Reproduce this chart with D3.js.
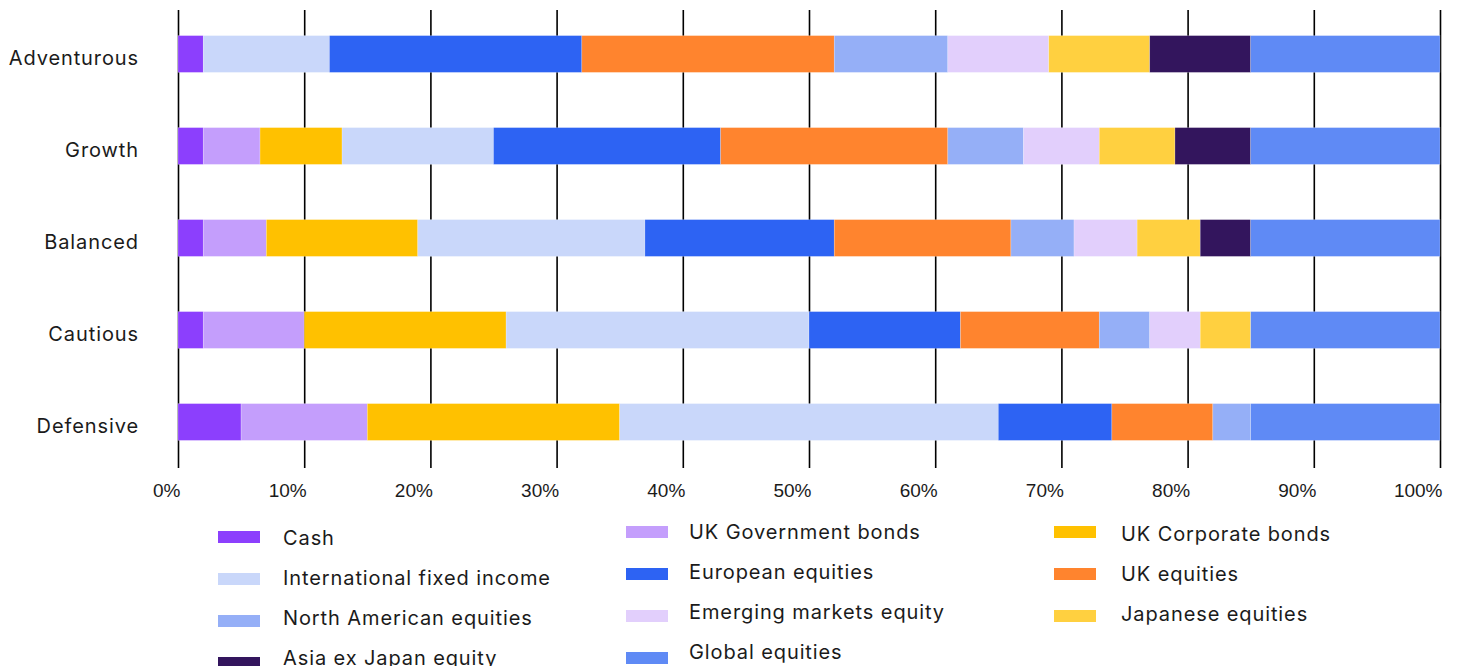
<!DOCTYPE html>
<html>
<head>
<meta charset="utf-8">
<script src="https://cdn.jsdelivr.net/npm/d3@7"></script>
<style>
  body { margin: 0; background: #fff; }
  svg { display: block; font-family: Inter, "Noto Sans", sans-serif; }
</style>
</head>
<body>
<svg id="chart" width="1458" height="666"></svg>
<script>
// portfolios, top to bottom
var portfolios = ["Adventurous", "Growth", "Balanced", "Cautious", "Defensive"];

// asset classes in stacking order
var assets = [
  "Cash", "UK Government bonds", "UK Corporate bonds",
  "International fixed income", "European equities", "UK equities",
  "North American equities", "Emerging markets equity", "Japanese equities",
  "Asia ex Japan equity", "Global equities"
];

var colours = [
  "#8c3ffd", "#c49efc", "#ffc100",
  "#c9d7fa", "#2d63f3", "#ff842e",
  "#95aff7", "#e2cffc", "#ffd040",
  "#33155d", "#5f8af5"
];

// % weights, one array per portfolio (same order as assets)
var adventurous = [2, 0,   0,   10, 20, 20, 9, 8, 8, 8, 15];
var growth      = [2, 4.5, 6.5, 12, 18, 18, 6, 6, 6, 6, 15];
var balanced    = [2, 5,   12,  18, 15, 14, 5, 5, 5, 4, 15];
var cautious    = [2, 8,   16,  24, 12, 11, 4, 4, 4, 0, 15];
var defensive   = [5, 10,  20,  30, 9,  8,  3, 0, 0, 0, 15];

var tickValues = [0, 10, 20, 30, 40, 50, 60, 70, 80, 90, 100];

var weights = [adventurous, growth, balanced, cautious, defensive];
var rows = portfolios.map(function (p, i) {
  var r = { portfolio: p };
  assets.forEach(function (a, j) { r[a] = weights[i][j]; });
  return r;
});

var svg = d3.select("#chart");

var x = d3.scaleLinear().domain([0, 100]).range([178, 1440]);
var y = d3.scaleBand().domain(portfolios).range([8, 468])
  .paddingInner(0.6).paddingOuter(0.3);
var colour = d3.scaleOrdinal().domain(assets).range(colours);

// grid + tick labels
var xAxis = svg.append("g")
  .attr("transform", "translate(0,468)")
  .call(d3.axisBottom(x).tickValues(tickValues).tickSize(-458)
    .tickFormat(function (d) { return d + "%"; }));
xAxis.select(".domain").remove();
xAxis.selectAll(".tick line").attr("stroke", "#000").attr("stroke-width", 1.6);
xAxis.selectAll(".tick text")
  .attr("text-anchor", "end")
  .attr("x", 2)
  .attr("y", 22)
  .attr("dy", "0.35em")
  .attr("fill", "#1b1b1b")
  .style("font-size", "19px");

// stacked bars
var series = d3.stack().keys(assets)(rows);

svg.append("g")
  .selectAll("g")
  .data(series)
  .join("g")
    .attr("fill", function (d) { return colour(d.key); })
  .selectAll("rect")
  .data(function (d) { return d.filter(function (s) { return s[1] > s[0]; }); })
  .join("rect")
    .attr("x", function (d) { return x(d[0]); })
    .attr("width", function (d) { return x(d[1]) - x(d[0]); })
    .attr("y", function (d) { return y(d.data.portfolio); })
    .attr("height", y.bandwidth())
    .attr("stroke", "#fff")
    .attr("stroke-opacity", 0.35)
    .attr("stroke-width", 0.6);

// portfolio labels
svg.append("g")
  .selectAll("text")
  .data(portfolios)
  .join("text")
    .attr("x", 139)
    .attr("y", function (d) { return y(d) + y.bandwidth() / 2 + 4; })
    .attr("dy", "0.35em")
    .attr("text-anchor", "end")
    .attr("fill", "#1b1b1b")
    .style("font-size", "20px")
    .style("letter-spacing", "0.9px")
    .text(function (d) { return d; });

// legend, three columns filled row by row
var colX = [218, 626, 1054];
var textX = [283, 689, 1121];
var swatchTop = [537, 532, 532];
var textTop = [538, 532, 534];

var legend = svg.append("g")
  .selectAll("g")
  .data(assets)
  .join("g");

legend.append("rect")
  .attr("x", function (d, i) { return colX[i % 3]; })
  .attr("y", function (d, i) { return swatchTop[i % 3] + Math.floor(i / 3) * 42 - 6; })
  .attr("width", 42)
  .attr("height", 12)
  .attr("fill", function (d) { return colour(d); });

legend.append("text")
  .attr("x", function (d, i) { return textX[i % 3]; })
  .attr("y", function (d, i) { return textTop[i % 3] + Math.floor(i / 3) * 40; })
  .attr("dy", "0.35em")
  .attr("fill", "#1b1b1b")
  .style("font-size", "20px")
  .style("letter-spacing", "0.9px")
  .text(function (d) { return d; });
</script>
</body>
</html>
